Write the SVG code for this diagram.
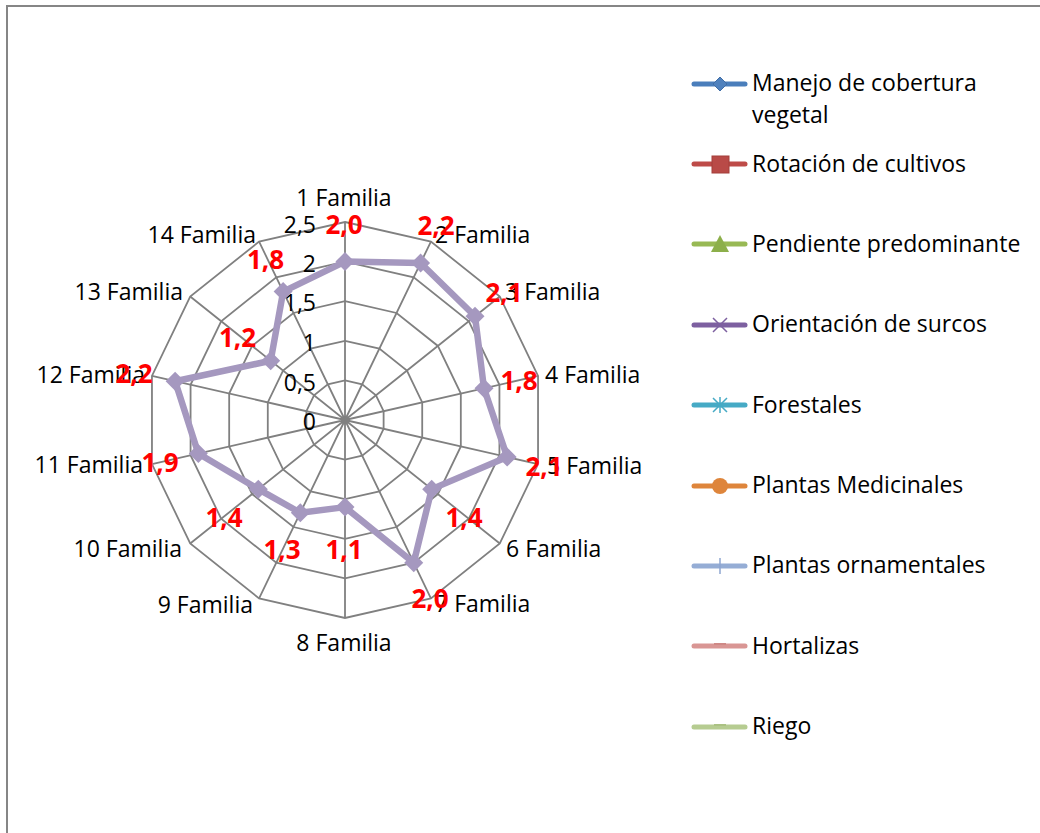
<svg xmlns="http://www.w3.org/2000/svg" xmlns:xlink="http://www.w3.org/1999/xlink" width="1040" height="833" viewBox="0 0 1040 833">
<style>
.t{font-family:"Open Sans","Liberation Sans",sans-serif;font-size:23px;fill:#000}
.v{font-family:"Open Sans","Liberation Sans",sans-serif;font-size:26px;font-weight:bold;fill:#FF0000;text-anchor:middle}
.grid{fill:none;stroke:#808080;stroke-width:1.8}
.ll{stroke-width:5;stroke-linecap:round;fill:none}
</style>
<defs>
<path id="dia" d="M0,-9.5 L9.5,0 L0,9.5 L-9.5,0 Z" fill="#A598BF"/>
</defs>
<rect x="0" y="0" width="1040" height="833" fill="#fff"/>
<rect x="7" y="6" width="1060" height="860" fill="none" stroke="#868686" stroke-width="2"/>

<g id="grid">
<polygon class="grid" points="345,380.4 362.18,384.32 375.96,395.31 383.61,411.19 383.61,428.81 375.96,444.69 362.18,455.68 345,459.6 327.82,455.68 314.04,444.69 306.39,428.81 306.39,411.19 314.04,395.31 327.82,384.32"/>
<polygon class="grid" points="345,340.8 379.36,348.64 406.92,370.62 422.21,402.38 422.21,437.62 406.92,469.38 379.36,491.36 345,499.2 310.64,491.36 283.08,469.38 267.79,437.62 267.79,402.38 283.08,370.62 310.64,348.64"/>
<polygon class="grid" points="345,301.2 396.55,312.96 437.88,345.93 460.82,393.56 460.82,446.44 437.88,494.07 396.55,527.04 345,538.8 293.45,527.04 252.12,494.07 229.18,446.44 229.18,393.56 252.12,345.93 293.45,312.96"/>
<polygon class="grid" points="345,261.6 413.73,277.29 468.84,321.24 499.43,384.75 499.43,455.25 468.84,518.76 413.73,562.71 345,578.4 276.27,562.71 221.16,518.76 190.57,455.25 190.57,384.75 221.16,321.24 276.27,277.29"/>
<polygon class="grid" points="345,222 430.91,241.61 499.8,296.55 538.04,375.94 538.04,464.06 499.8,543.45 430.91,598.39 345,618 259.09,598.39 190.2,543.45 151.96,464.06 151.96,375.94 190.2,296.55 259.09,241.61"/>
<path class="grid" d="M345,420L345,222M345,420L430.91,241.61M345,420L499.8,296.55M345,420L538.04,375.94M345,420L538.04,464.06M345,420L499.8,543.45M345,420L430.91,598.39M345,420L345,618M345,420L259.09,598.39M345,420L190.2,543.45M345,420L151.96,464.06M345,420L151.96,375.94M345,420L190.2,296.55M345,420L259.09,241.61"/>
</g>

<g id="ticks" class="t" text-anchor="end">
<text x="316" y="430">0</text>
<text x="316" y="391">0,5</text>
<text x="316" y="351">1</text>
<text x="316" y="311">1,5</text>
<text x="316" y="272">2</text>
<text x="316" y="233">2,5</text>
</g>

<g id="axis-labels" class="t">
<text x="344" y="206" text-anchor="middle">1 Familia</text>
<text x="435" y="243">2 Familia</text>
<text x="505" y="300">3 Familia</text>
<text x="545" y="383">4 Familia</text>
<text x="547" y="474">5 Familia</text>
<text x="506" y="557">6 Familia</text>
<text x="435" y="612">7 Familia</text>
<text x="344" y="651" text-anchor="middle">8 Familia</text>
<text x="253" y="613" text-anchor="end">9 Familia</text>
<text x="182" y="557" text-anchor="end">10 Familia</text>
<text x="143" y="473" text-anchor="end">11 Familia</text>
<text x="145" y="383" text-anchor="end">12 Familia</text>
<text x="183" y="300" text-anchor="end">13 Familia</text>
<text x="256" y="243" text-anchor="end">14 Familia</text>
</g>

<g id="series">
<polygon points="345,261.6 420.6,263.02 475.03,316.3 483.99,388.28 507.15,457.01 431.69,489.13 413.73,562.71 345,507.12 300.33,512.76 258.31,489.13 198.29,453.48 175.13,381.23 270.69,360.74 283.15,291.56" fill="none" stroke="#A598BF" stroke-width="6.5" stroke-linejoin="round"/>
<use xlink:href="#dia" x="345" y="261.6"/>
<use xlink:href="#dia" x="420.6" y="263.02"/>
<use xlink:href="#dia" x="475.03" y="316.3"/>
<use xlink:href="#dia" x="483.99" y="388.28"/>
<use xlink:href="#dia" x="507.15" y="457.01"/>
<use xlink:href="#dia" x="431.69" y="489.13"/>
<use xlink:href="#dia" x="413.73" y="562.71"/>
<use xlink:href="#dia" x="345" y="507.12"/>
<use xlink:href="#dia" x="300.33" y="512.76"/>
<use xlink:href="#dia" x="258.31" y="489.13"/>
<use xlink:href="#dia" x="198.29" y="453.48"/>
<use xlink:href="#dia" x="175.13" y="381.23"/>
<use xlink:href="#dia" x="270.69" y="360.74"/>
<use xlink:href="#dia" x="283.15" y="291.56"/>
</g>

<g id="data-labels">
<text class="v" x="344" y="234">2,0</text>
<text class="v" x="436" y="235">2,2</text>
<text class="v" x="504" y="302">2,1</text>
<text class="v" x="519" y="390">1,8</text>
<text class="v" x="544" y="476">2,1</text>
<text class="v" x="464" y="527">1,4</text>
<text class="v" x="430" y="608">2,0</text>
<text class="v" x="344" y="559">1,1</text>
<text class="v" x="282" y="559">1,3</text>
<text class="v" x="224" y="527">1,4</text>
<text class="v" x="160" y="472">1,9</text>
<text class="v" x="134" y="383">2,2</text>
<text class="v" x="237.5" y="347">1,2</text>
<text class="v" x="265.5" y="269">1,8</text>
</g>

<g id="legend">
<g id="leg-manejo">
<line class="ll" x1="694" y1="84" x2="745" y2="84" stroke="#4A7EBB"/>
<path d="M720,77 L727,84 L720,91 L713,84 Z" fill="#4F81BD" stroke="#3F6DA6" stroke-width="1"/>
<text class="t" x="752" y="91">Manejo de cobertura</text>
<text class="t" x="752" y="123">vegetal</text>
</g>
<g id="leg-rotacion">
<line class="ll" x1="694" y1="164" x2="745" y2="164" stroke="#BE4B48"/>
<rect x="712" y="156" width="17" height="17" fill="#B94A47" stroke="#A33E3B" stroke-width="1"/>
<text class="t" x="752" y="172">Rotación de cultivos</text>
</g>
<g id="leg-pendiente">
<line class="ll" x1="694" y1="244" x2="745" y2="244" stroke="#98B954"/>
<path d="M720,235 L729,252 L711,252 Z" fill="#8CAF4A"/>
<text class="t" x="752" y="252">Pendiente predominante</text>
</g>
<g id="leg-orientacion">
<line class="ll" x1="694" y1="325" x2="745" y2="325" stroke="#7D60A0"/>
<path d="M713,318 L727,332 M727,318 L713,332" stroke="#7D60A0" stroke-width="1.5"/>
<text class="t" x="752" y="332">Orientación de surcos</text>
</g>
<g id="leg-forestales">
<line class="ll" x1="694" y1="405" x2="745" y2="405" stroke="#46AAC5"/>
<path d="M713,398 L727,412 M727,398 L713,412 M720,397 L720,413" stroke="#46AAC5" stroke-width="1.5"/>
<text class="t" x="752" y="413">Forestales</text>
</g>
<g id="leg-medicinales">
<line class="ll" x1="694" y1="486" x2="745" y2="486" stroke="#DE853B"/>
<circle cx="720" cy="486" r="8" fill="#DE853B"/>
<text class="t" x="752" y="493">Plantas Medicinales</text>
</g>
<g id="leg-ornamentales">
<line class="ll" x1="694" y1="566" x2="745" y2="566" stroke="#95ADD5"/>
<line x1="720" y1="558" x2="720" y2="574" stroke="#8EA6D0" stroke-width="1.5"/>
<text class="t" x="752" y="573">Plantas ornamentales</text>
</g>
<g id="leg-hortalizas">
<line class="ll" x1="694" y1="646" x2="745" y2="646" stroke="#D99694"/>
<line x1="714" y1="644" x2="726" y2="644" stroke="#CF8986" stroke-width="2"/>
<text class="t" x="752" y="654">Hortalizas</text>
</g>
<g id="leg-riego">
<line class="ll" x1="694" y1="727" x2="745" y2="727" stroke="#B6CC91"/>
<line x1="714" y1="725" x2="726" y2="725" stroke="#ABC283" stroke-width="2"/>
<text class="t" x="752" y="734">Riego</text>
</g>
</g>
</svg>
